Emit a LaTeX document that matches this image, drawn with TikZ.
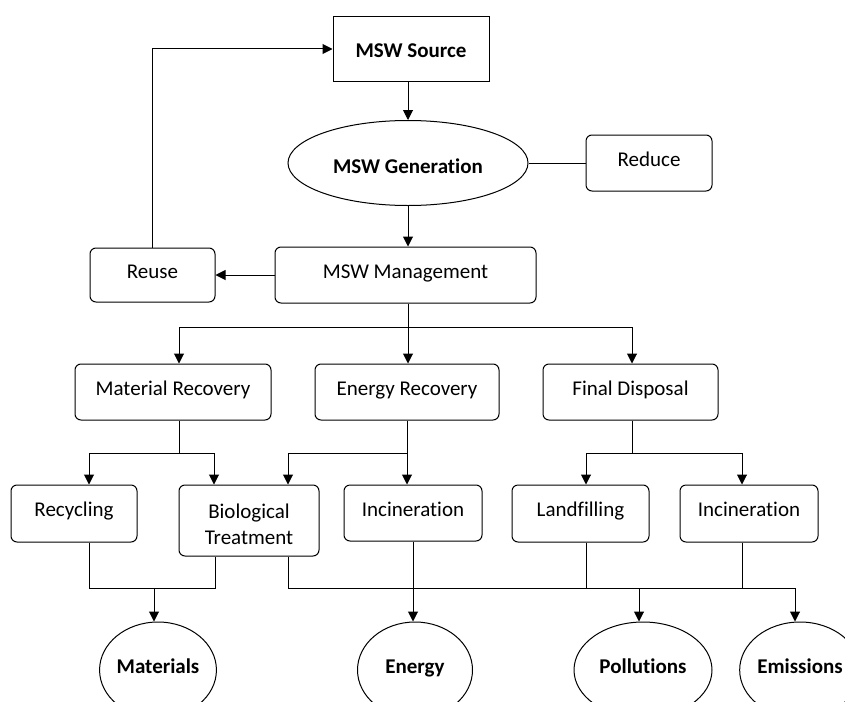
\documentclass[tikz,border=0pt]{standalone}
\usepackage{fontspec}
\setmainfont{Carlito}[Ligatures=NoCommon]
\usetikzlibrary{arrows.meta,shapes.geometric,calc}

\begin{document}
\begin{tikzpicture}[x=1pt,y=-1pt,
  line width=1pt,
  arr/.style={-{Triangle[length=10pt,width=10pt]}},
  lbl/.style={font=\fontsize{21}{26}\selectfont},
  box/.style={lbl, draw, rounded corners=6pt, inner sep=0pt,
              text height=14pt, text depth=8pt},
  srcbox/.style={lbl, draw, inner sep=0pt, font=\bfseries\fontsize{21}{26}\selectfont,
                 text height=16pt, text depth=0pt},
  oval/.style={draw, ellipse, inner sep=0pt, font=\bfseries\fontsize{21}{26}\selectfont},
  result/.style={oval, minimum height=96pt, text height=14pt, text depth=8pt}]

\useasboundingbox (0,0) rectangle (845,701);
\clip (0,0) rectangle (845,701);

% top of the chain
\node[srcbox, minimum width=156pt, minimum height=64pt] (src) at (411,49) {MSW Source};
\node[oval, minimum width=240pt, minimum height=85pt, text height=21.6pt, text depth=0pt]
     (gen) at (408,163) {MSW Generation};
\node[box, minimum width=126pt, minimum height=56pt] (reduce) at (649,163) {Reduce};
\node[box, minimum width=261pt, minimum height=56pt] (mgmt) at (405.5,275) {MSW Management};
\node[box, minimum width=125pt, minimum height=54pt] (reuse) at (152.5,275) {Reuse};

% recovery / disposal routes
\node[box, minimum width=196pt, minimum height=56pt] (matrec) at (173,392) {Material Recovery};
\node[box, minimum width=184pt, minimum height=56pt] (enrec) at (407,392) {Energy Recovery};
\node[box, minimum width=175pt, minimum height=56pt] (findis) at (630.5,392) {Final Disposal};

% treatment options
\node[box, minimum width=126pt, minimum height=57pt] (recyc) at (74,513.5) {Recycling};
\node[lbl, draw, rounded corners=6pt, inner sep=0pt, align=center,
      minimum width=140pt, minimum height=71pt] (bio) at (249,520.5)
     {\rule{0pt}{23pt}Biological\\Treatment};
\node[box, minimum width=138pt, minimum height=56pt] (inc1) at (413,513) {Incineration};
\node[box, minimum width=137pt, minimum height=57pt] (land) at (580.5,513.5) {Landfilling};
\node[box, minimum width=138pt, minimum height=57pt] (inc2) at (749,513.5) {Incineration};

% outputs
\node[result, minimum width=114pt] (mat) at (158,670) {Materials};
\node[result, minimum width=115pt] (ene) at (415,670) {Energy};
\node[result, minimum width=138pt] (pol) at (643,670) {Pollutions};
\node[result, minimum width=118pt] (emi) at (800,670) {Emissions};

% junction and corner points of the branching lines
\coordinate (j1) at (408,327);
\coordinate (j2) at (179,453);
\coordinate (j3) at (407,453);
\coordinate (j4) at (632,453);
\coordinate (busL) at (154,588);
\coordinate (bioLB) at (215,588);
\coordinate (busR) at (795,588);
\coordinate (landB) at (586,588);
\coordinate (inc2B) at (742,588);
\coordinate (polB) at (639,588);

% upper connectors
\draw[arr] (src.south -| gen.north) -- (gen.north);
\draw[arr] (gen.south) -- (gen.south |- mgmt.north);
\draw (gen.east) -- (reduce.west);
\draw[arr] (mgmt.west) -- (reuse.east);
\draw[arr] (reuse.north) |- (src.west);

% management to the three routes
\draw (gen.south |- mgmt.south) -- (j1);
\draw[arr] (j1) -| ($(matrec.north)+(6,0)$);
\draw[arr] (j1) -- (j1 |- enrec.north);
\draw[arr] (j1) -| ($(findis.north)+(1.5,0)$);

% routes to treatment options
\draw ($(matrec.south)+(6,0)$) -- (j2);
\draw[arr] (j2) -| ($(recyc.north)+(15,0)$);
\draw[arr] (j2) -| ($(bio.north)+(-35,0)$);
\draw[arr] (enrec.south) -- (enrec.south |- inc1.north);
\draw[arr] (j3) -| ($(bio.north)+(39,0)$);
\draw ($(findis.south)+(1.5,0)$) -- (j4);
\draw[arr] (j4) -| ($(land.north)+(5.5,0)$);
\draw[arr] (j4) -| ($(inc2.north)+(-7,0)$);

% treatment options to outputs
\draw ($(recyc.south)+(15,0)$) |- (bioLB) -- ($(bio.south)+(-34,0)$);
\draw[arr] (busL) -- (busL |- mat.north);
\draw[arr] ($(bio.south)+(39,0)$) |- (busR) -- (busR |- emi.north);
\draw[arr] (inc1.south) -- (inc1.south |- ene.north);
\draw ($(land.south)+(5.5,0)$) -- (landB);
\draw ($(inc2.south)+(-7,0)$) -- (inc2B);
\draw[arr] (polB) -- (polB |- pol.north);
\end{tikzpicture}
\end{document}
